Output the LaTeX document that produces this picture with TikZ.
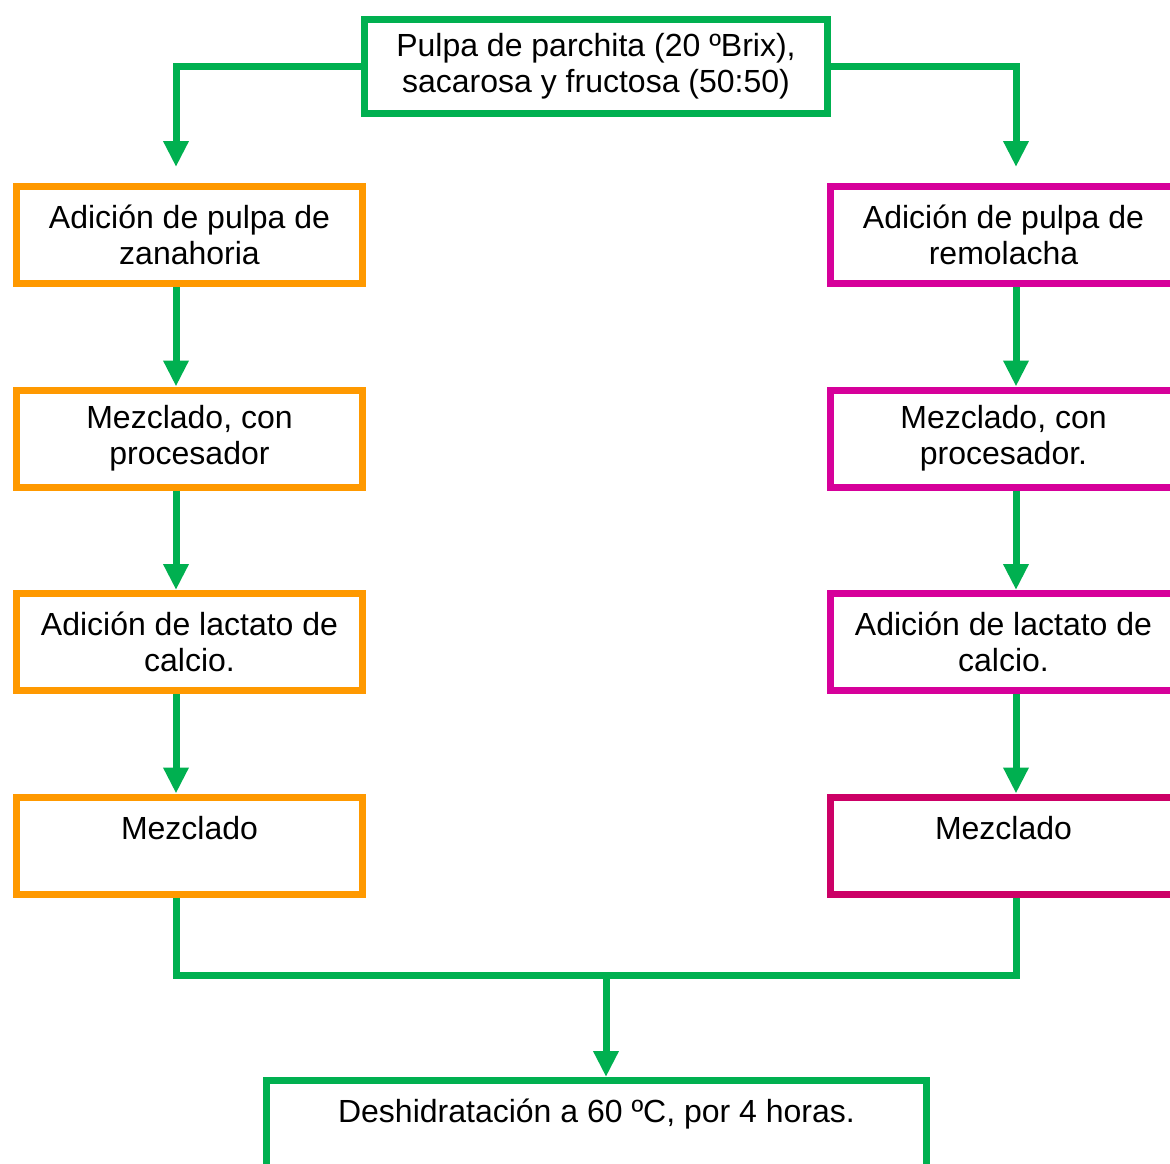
\documentclass[tikz,border=0pt]{standalone}
\usepackage{fontspec}
\setmainfont{Liberation Sans}
\usetikzlibrary{arrows.meta,positioning}
\definecolor{leafgreen}{HTML}{00B050}
\definecolor{carrot}{HTML}{FF9900}
\definecolor{beet}{HTML}{D6009A}
\definecolor{beetdk}{HTML}{CC0066}
\tikzset{
  box/.style={rectangle,draw=#1,line width=7pt,fill=white,
              minimum width=346pt,minimum height=97pt,inner sep=0pt,
              font=\fontsize{32}{36}\selectfont,align=center},
  arr/.style={-{Triangle[width=24pt,length=26pt]},line width=7pt,color=leafgreen},
  lnk/.style={line width=7pt,color=leafgreen},
}
\begin{document}
\begin{tikzpicture}[x=1pt,y=-1pt,node distance=99.5pt]
  \useasboundingbox (0,0) rectangle (1170,1164);

  \node[box=leafgreen,minimum width=463pt,minimum height=94pt] (pulpa) at (596,66.5)
    {Pulpa de parchita (20 ºBrix),\\sacarosa y fructosa (50:50)};

  % zanahoria
  \node[box=carrot] (zan1) at (189.5,235) {Adición de pulpa de\\zanahoria};
  \node[box=carrot, below=of zan1] (zan2) {Mezclado, con\\procesador};
  \node[box=carrot, below=of zan2] (zan3) {Adición de lactato de\\calcio.};
  \node[box=carrot, below=of zan3] (zan4) {Mezclado\\~};

  % remolacha
  \node[box=beet] (rem1) at (1003.5,235) {Adición de pulpa de\\remolacha};
  \node[box=beet, below=of rem1] (rem2) {Mezclado, con\\procesador.};
  \node[box=beet, below=of rem2] (rem3) {Adición de lactato de\\calcio.};
  \node[box=beetdk, below=of rem3] (rem4) {Mezclado\\~};

  \node[box=leafgreen,minimum width=660pt] (deshi) at (596.5,1129)
    {Deshidratación a 60 ºC, por 4 horas.\\~};

  \coordinate (lx) at (176,0);
  \coordinate (rx) at (1016,0);
  \coordinate (jn) at (606,975);

  \draw[arr] (pulpa.west) -| ([yshift=16pt]zan1.north -| lx);
  \draw[arr] (pulpa.east) -| ([yshift=16pt]rem1.north -| rx);

  \draw[arr] (zan1.south -| lx) -- (zan2.north -| lx);
  \draw[arr] (zan2.south -| lx) -- (zan3.north -| lx);
  \draw[arr] (zan3.south -| lx) -- (zan4.north -| lx);
  \draw[arr] (rem1.south -| rx) -- (rem2.north -| rx);
  \draw[arr] (rem2.south -| rx) -- (rem3.north -| rx);
  \draw[arr] (rem3.south -| rx) -- (rem4.north -| rx);

  \draw[lnk] (zan4.south -| lx) |- (jn) -| (rem4.south -| rx);
  \draw[arr] (jn) -- (deshi.north -| jn);
\end{tikzpicture}
\end{document}
